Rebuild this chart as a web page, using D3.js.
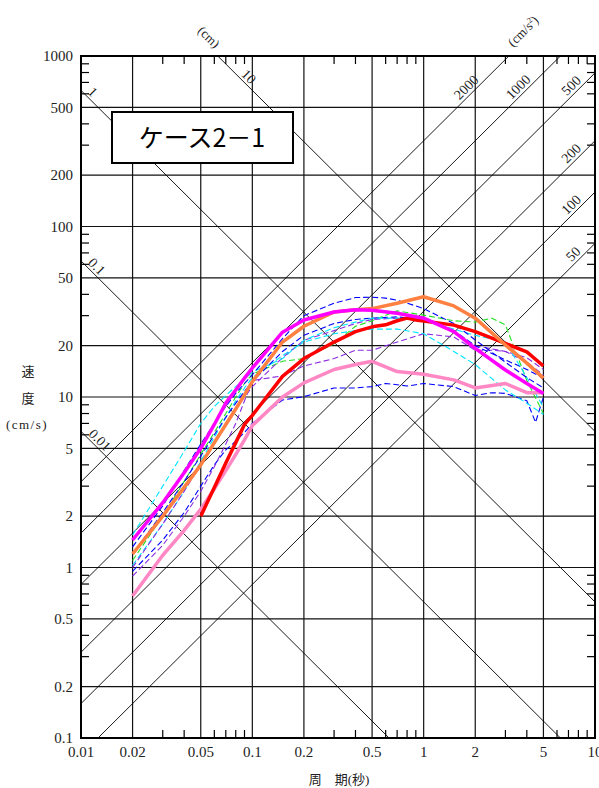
<!DOCTYPE html>
<html>
<head>
<meta charset="utf-8">
<script src="https://cdn.jsdelivr.net/npm/d3@7"></script>
<style>
  body { margin: 0; background: #fff; }
  svg { display: block; }
  .num { font-family: "Liberation Serif", "DejaVu Serif", serif; fill: #222; }
  .jp { font-family: "Liberation Serif", "Noto Sans CJK JP", serif; fill: #222; }
</style>
</head>
<body>
<script>
// periods (s) at which the spectra are sampled
var periods = [0.02, 0.03, 0.04, 0.05, 0.06, 0.07, 0.08, 0.09, 0.1, 0.15, 0.2, 0.3, 0.4, 0.5,
               0.6, 0.7, 0.8, 0.9, 1, 1.5, 2, 2.5, 3, 4, 4.5, 5];

// velocity response (cm/s), null = no point at that period
var blueA   = [1.32, 2.3, 3.7, 5.3, 7.0, 8.8, 10.5, 12, 13.5, 22, 30, 35.5, 38.3, 38.5, 38, 37, 35.5, 34.2, 33, 27, 21.6, null, 16, 13, null, 11.3];
var blueB   = [0.95, 1.45, 2.1, 3.0, 4.0, 4.9, 5.5, 6.2, 7.0, 9.6, 10.05, 11.3, 11.3, 11.5, 12.0, 11.8, 11.6, 11.8, 12.0, 11.5, 10.2, 10.6, 10.5, 9.5, 7.1, 10.0];
var blueC   = [1.2, 2.1, 3.2, 4.5, 6.0, 7.6, 9.2, 10.8, 12.3, 18.5, 23, 27, 28.5, 29, null, 29.5, null, null, 28.5, 24.5, 20, null, 16.5, 14.5, null, 12.9];
var cyanA   = [1.55, 3.0, 4.8, 7.0, 8.8, 10.2, 11.5, 12.7, 14, 16.8, 21.5, 25.5, 27.5, 29, null, 29, null, null, 28, 25, 23, null, 21, 13, null, 8.7];
var cyanB   = [1.03, 1.8, 2.8, 4.2, 5.8, 7.6, 9.5, 11.3, 13, 17.5, 21, 23.5, 24.5, 25, null, 25, null, null, 23.5, 18.5, 15.5, null, 11, 9.2, null, 7.9];
var green   = [1.1, 2.0, 3.2, 4.6, 6.2, 8.0, 10.0, 12, 13.6, 16.2, 16.8, 20.5, 26, 28, null, 32, null, null, 30.2, 28, 27.5, 29, 26.5, 12.5, null, 8.0];
var purpleA = [1.0, 1.8, 2.8, 4.0, 5.3, 6.8, 8.4, 10, 11.5, 17, 21.5, 24.5, 27, 28.5, null, 29, null, null, 29.5, 24, 20, null, 18.5, 17, null, 14.5];
var purpleB = [0.89, 1.35, 2.0, 2.8, 3.9, 5.3, 7.0, 9.5, 12.5, 13.3, 15.2, 16.8, 18.8, 18.8, null, 21, null, null, 23.5, 22.5, 18.8, 18.8, 18.5, 16, null, 13.5];
var pink    = [0.68, 1.18, 1.65, 2.2, 2.9, 3.7, 4.6, 5.6, 6.8, 10.0, 12.1, 14.5, 15.5, 16.2, null, 14.1, null, null, 13.6, 12.6, 11.3, null, 12.0, 10.6, null, 10.6];
var red     = [null, null, null, 2.0, 2.95, 4.1, 5.4, 6.9, 7.8, 13.2, 16.8, 21, 24.2, 25.8, 26.5, 28, 29, 28.3, 27.9, 26.4, 24.2, null, 20.6, 18.4, null, 15.2];
var orange  = [1.2, 2.0, 2.95, 4.0, 5.4, 6.9, 8.5, 10.3, 12.3, 21, 26, 31.5, 32.5, 33, null, 35.5, null, null, 38.7, 34.2, 29, null, 20.2, 15.8, null, 12.9];
var magenta = [1.45, 2.4, 3.6, 5.0, 6.9, 9.2, 11.0, 12.9, 14.8, 24, 28.3, 31.5, 32.5, 32.3, null, 31, null, null, 29, 24.2, 19.3, null, 14.4, 12, null, 10.5];

// axis ticks
var xTicks = [0.01, 0.02, 0.05, 0.1, 0.2, 0.5, 1, 2, 5, 10];
var xTickLabels = ["0.01", "0.02", "0.05", "0.1", "0.2", "0.5", "1", "2", "5", "10"];
var yTicks = [0.1, 0.2, 0.5, 1, 2, 5, 10, 20, 50, 100, 200, 500, 1000];
var yTickLabels = ["0.1", "0.2", "0.5", "1", "2", "5", "10", "20", "50", "100", "200", "500", "1000"];

// tripartite guide lines
var dispValues = [0.01, 0.1, 1, 10];          // displacement (cm)
var dispLabels = ["0.01", "0.1", "1", "10"];
var accValues = [50, 100, 200, 500, 1000, 2000]; // acceleration (cm/s2)
var accLabels = ["50", "100", "200", "500", "1000", "2000"];

var W = 599, H = 788;
var x = d3.scaleLog().domain([0.01, 10]).range([81, 595]);
var y = d3.scaleLog().domain([0.1, 1000]).range([738, 56]);
var x0 = x.range()[0], x1 = x.range()[1], yTop = y.range()[1], yBot = y.range()[0];

var svg = d3.select("body").append("svg").attr("width", W).attr("height", H);

svg.append("clipPath").attr("id", "plot").append("rect")
    .attr("x", x0).attr("y", yTop).attr("width", x1 - x0).attr("height", yBot - yTop);

// grid
var grid = svg.append("g").attr("stroke", "#111").attr("stroke-width", 1.2);
grid.selectAll(".vg").data(xTicks.slice(1, -1)).enter().append("line")
    .attr("x1", function (d) { return x(d); }).attr("x2", function (d) { return x(d); })
    .attr("y1", yTop).attr("y2", yBot);
grid.selectAll(".hg").data(yTicks.slice(1, -1)).enter().append("line")
    .attr("y1", function (d) { return y(d); }).attr("y2", function (d) { return y(d); })
    .attr("x1", x0).attr("x2", x1);

// diagonal lines
var diag = svg.append("g").attr("clip-path", "url(#plot)").attr("stroke", "#000").attr("stroke-width", 0.9);
var TT = x.domain();
dispValues.forEach(function (sd) {
    diag.append("line")
        .attr("x1", x(TT[0])).attr("y1", y(2 * Math.PI * sd / TT[0]))
        .attr("x2", x(TT[1])).attr("y2", y(2 * Math.PI * sd / TT[1]));
});
accValues.forEach(function (sa) {
    diag.append("line")
        .attr("x1", x(TT[0])).attr("y1", y(sa * TT[0] / (2 * Math.PI)))
        .attr("x2", x(TT[1])).attr("y2", y(sa * TT[1] / (2 * Math.PI)));
});

// spectra
var series = [
    { v: blueB, color: "#0000ff", w: 1.1, dash: "6,3" },
    { v: purpleB, color: "#8a2be2", w: 1.1, dash: "6,3" },
    { v: green, color: "#22e022", w: 1.1, dash: "6,3" },
    { v: cyanB, color: "#00e5ff", w: 1.1, dash: "6,3" },
    { v: purpleA, color: "#8a2be2", w: 1.1, dash: "6,3" },
    { v: blueC, color: "#0000ff", w: 1.1, dash: "6,3" },
    { v: cyanA, color: "#00e5ff", w: 1.1, dash: "6,3" },
    { v: blueA, color: "#0000ff", w: 1.1, dash: "6,3" },
    { v: pink, color: "#ff88c4", w: 3.5, dash: null },
    { v: red, color: "#ff0000", w: 3.5, dash: null },
    { v: orange, color: "#ff8040", w: 3.5, dash: null },
    { v: magenta, color: "#ff00ff", w: 3.5, dash: null }
];
var line = d3.line()
    .x(function (d) { return x(d.t); })
    .y(function (d) { return y(d.v); });
var curves = svg.append("g").attr("clip-path", "url(#plot)").attr("fill", "none");
series.forEach(function (s) {
    var data = periods.map(function (t, i) { return { t: t, v: s.v[i] }; })
        .filter(function (d) { return d.v != null; });
    curves.append("path").datum(data)
        .attr("d", line)
        .attr("stroke", s.color)
        .attr("stroke-width", s.w)
        .attr("stroke-dasharray", s.dash)
        .attr("stroke-linejoin", "round");
});

// frame
svg.append("rect").attr("x", x0).attr("y", yTop).attr("width", x1 - x0).attr("height", yBot - yTop)
    .attr("fill", "none").attr("stroke", "#000").attr("stroke-width", 2);

// minor ticks (3,4,6,7,8,9 of each decade), pointing inward
var minor = [3, 4, 6, 7, 8, 9];
var xMinor = [], yMinor = [];
[0.01, 0.1, 1].forEach(function (d) { minor.forEach(function (k) { xMinor.push(k * d); }); });
[0.1, 1, 10, 100].forEach(function (d) { minor.forEach(function (k) { yMinor.push(k * d); }); });
var tl = 8;
var ticks = svg.append("g").attr("stroke", "#000").attr("stroke-width", 1.2);
xMinor.forEach(function (v) {
    ticks.append("line").attr("x1", x(v)).attr("x2", x(v)).attr("y1", yBot).attr("y2", yBot - tl);
    ticks.append("line").attr("x1", x(v)).attr("x2", x(v)).attr("y1", yTop).attr("y2", yTop + tl);
});
yMinor.forEach(function (v) {
    ticks.append("line").attr("y1", y(v)).attr("y2", y(v)).attr("x1", x0).attr("x2", x0 + tl);
    ticks.append("line").attr("y1", y(v)).attr("y2", y(v)).attr("x1", x1).attr("x2", x1 - tl);
});

// tick labels (the last one sits on the window edge, as in the original)
svg.append("g").selectAll("text").data(xTicks).enter().append("text")
    .attr("class", "num")
    .attr("x", function (d) { return x(d); })
    .attr("y", yBot + 14)
    .attr("dy", "0.35em")
    .attr("text-anchor", "middle")
    .style("font-size", "15px")
    .text(function (d, i) { return xTickLabels[i]; });
svg.append("g").selectAll("text").data(yTicks).enter().append("text")
    .attr("class", "num")
    .attr("x", x0 - 8)
    .attr("y", function (d) { return y(d); })
    .attr("dy", "0.35em")
    .attr("text-anchor", "end")
    .style("font-size", "15px")
    .text(function (d, i) { return yTickLabels[i]; });

// diagonal labels
var dispLabelX = [100, 97, 93, 249];
dispValues.forEach(function (sd, i) {
    var t = x.invert(dispLabelX[i]);
    svg.append("text").attr("class", "num")
        .attr("transform", "translate(" + dispLabelX[i] + "," + (y(2 * Math.PI * sd / t) - 10.5) + ") rotate(45)")
        .attr("text-anchor", "middle").attr("dy", "0.35em")
        .style("font-size", "14px")
        .text(dispLabels[i]);
});
var accLabelX = [573, 571, 571, 571, 518, 466];
accValues.forEach(function (sa, i) {
    var t = x.invert(accLabelX[i]);
    svg.append("text").attr("class", "num")
        .attr("transform", "translate(" + accLabelX[i] + "," + (y(sa * t / (2 * Math.PI)) - 11.5) + ") rotate(-45)")
        .attr("text-anchor", "middle").attr("dy", "0.35em")
        .style("font-size", "14px")
        .text(accLabels[i]);
});
svg.append("text").attr("class", "num")
    .attr("transform", "translate(209,37) rotate(45)")
    .attr("text-anchor", "middle").attr("dy", "0.35em")
    .style("font-size", "13px").text("(cm)");
svg.append("text").attr("class", "num")
    .attr("transform", "translate(523,31) rotate(-45)")
    .attr("text-anchor", "middle").attr("dy", "0.35em")
    .style("font-size", "13px")
    .html("(cm/s<tspan dy='-5' font-size='8'>2</tspan><tspan dy='5'>)</tspan>");

// axis titles
var yt = svg.append("g").attr("class", "jp").style("font-size", "13px").attr("text-anchor", "middle");
yt.append("text").attr("x", 28).attr("y", 371).attr("dy", "0.35em").text("速");
yt.append("text").attr("x", 28).attr("y", 398).attr("dy", "0.35em").text("度");
yt.append("text").attr("x", 27).attr("y", 424).attr("dy", "0.35em")
    .style("letter-spacing", "1.5px").text("(cm/s)");
svg.append("text").attr("class", "jp").attr("x", 339).attr("y", 779).attr("dy", "0.35em")
    .attr("text-anchor", "middle").style("font-size", "13px").text("周　期(秒)");

// case box
svg.append("rect").attr("x", 112).attr("y", 112).attr("width", 181).attr("height", 51)
    .attr("fill", "#fff").attr("stroke", "#000").attr("stroke-width", 2);
svg.append("text").attr("x", 202).attr("y", 138).attr("dy", "0.35em")
    .attr("text-anchor", "middle")
    .style("font-family", "'Noto Sans CJK JP', sans-serif").style("font-size", "25px")
    .text("ケース2－1");
</script>
</body>
</html>
